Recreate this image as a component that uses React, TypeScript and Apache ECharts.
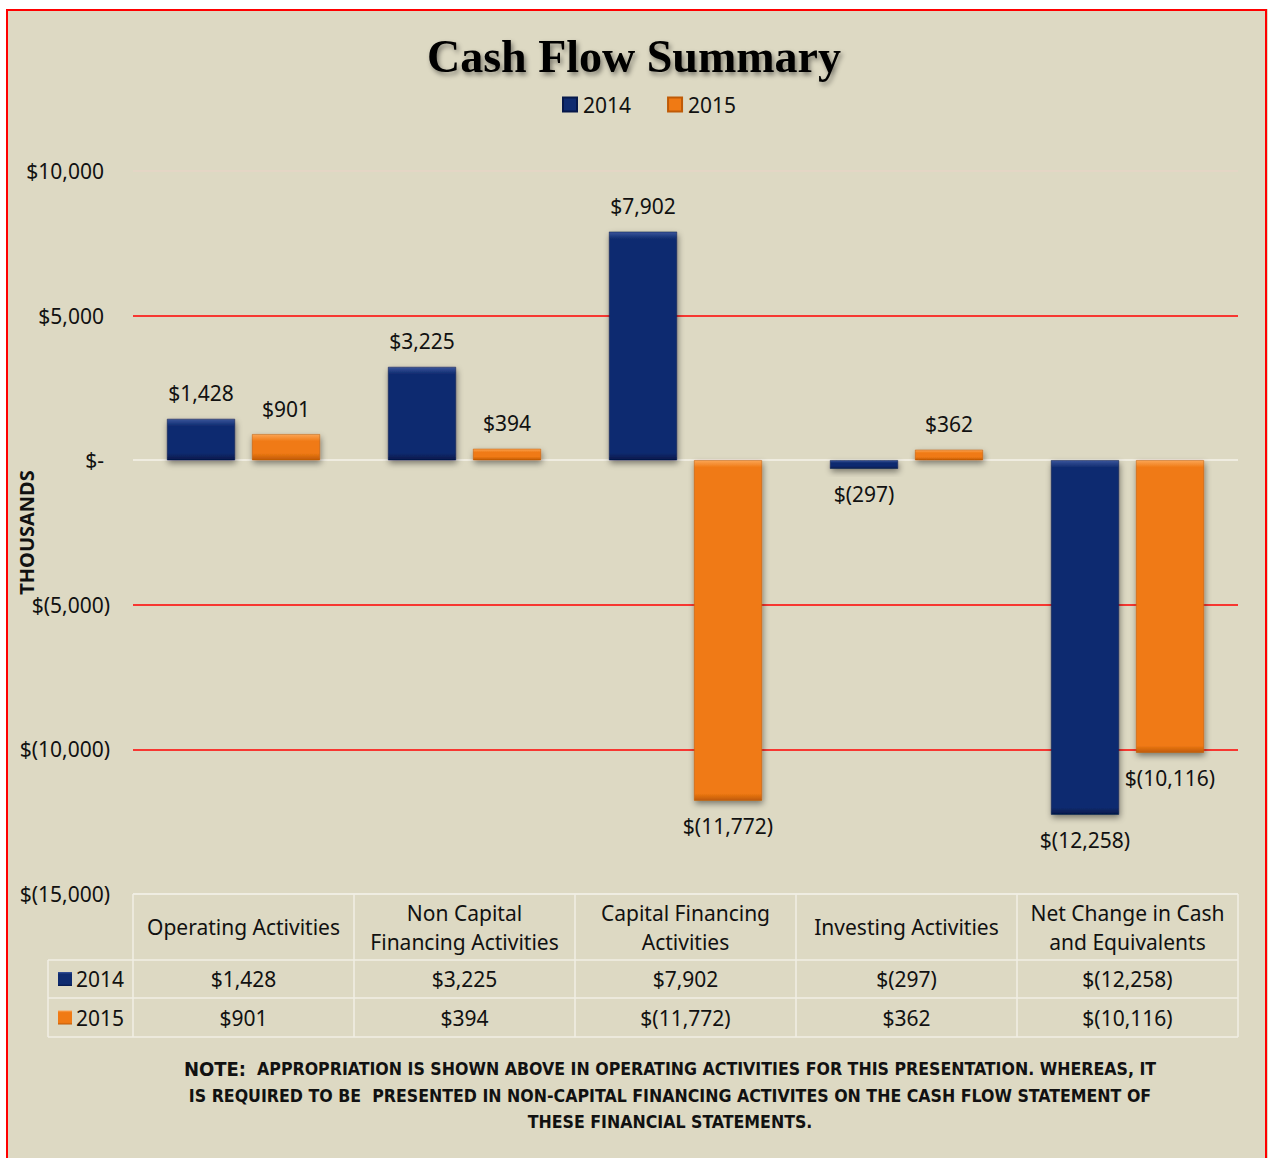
import React, { useEffect, useRef } from "react";
import * as echarts from "echarts";

const categories = [
  "Operating Activities",
  "Non Capital Financing Activities",
  "Capital Financing Activities",
  "Investing Activities",
  "Net Change in Cash and Equivalents",
];
const headerLabels = [
  "Operating Activities",
  "Non Capital\nFinancing Activities",
  "Capital Financing\nActivities",
  "Investing Activities",
  "Net Change in Cash\nand Equivalents",
];
const seriesNames = ["2014", "2015"];
const values2014 = [1428, 3225, 7902, -297, -12258];
const values2015 = [901, 394, -11772, 362, -10116];
const yMin = -15000;
const yMax = 10000;
const yInterval = 5000;
const noteLines = [
  "APPROPRIATION IS SHOWN ABOVE IN OPERATING ACTIVITIES FOR THIS PRESENTATION. WHEREAS, IT",
  "IS REQUIRED TO BE  PRESENTED IN NON-CAPITAL FINANCING ACTIVITES ON THE CASH FLOW STATEMENT OF",
  "THESE FINANCIAL STATEMENTS.",
];

const W = 1268;
const H = 1158;
const G_LEFT = 133;
const G_RIGHT = 1238;
const G_TOP = 171;
const G_BOTTOM = 894;
const ROW1 = 960;
const ROW2 = 998;
const ROW_END = 1037;
const LEG_COL = 48;

const BG = "#DDD9C3";
const NAVY = { light: "#3A559B", base: "#0F2B6F", dark: "#06184A" };
const ORANGE = { light: "#FBA556", base: "#F07A14", dark: "#BF5A06" };
const SANS = "'Noto Sans', 'Open Sans', sans-serif";
const FS = 21;

function fmt(v: number): string {
  if (v === 0) return "$-";
  const s = Math.abs(v).toLocaleString("en-US");
  return v < 0 ? `$(${s})` : `$${s}`;
}

function grad(c: { light: string; base: string; dark: string }, frac = 0.07) {
  return new echarts.graphic.LinearGradient(0, 0, 0, 1, [
    { offset: 0, color: c.light },
    { offset: frac, color: c.base },
    { offset: 1 - frac, color: c.base },
    { offset: 1, color: c.dark },
  ]);
}

export default function App() {
  const ref = useRef<HTMLDivElement>(null);
  useEffect(() => {
    if (!ref.current) return;
    const chart = echarts.init(ref.current, undefined, { renderer: "svg" });
    const colW = (G_RIGHT - G_LEFT) / categories.length;
    const pxPerUnit = (G_BOTTOM - G_TOP) / (yMax - yMin);
    const palettes = [NAVY, ORANGE];
    const rowsData = [values2014, values2015];

    const graphics: any[] = [];
    graphics.push({ type: "rect", shape: { x: 0, y: 0, width: W, height: 9 }, style: { fill: "#ffffff" }, z: 100 });
    graphics.push({ type: "rect", shape: { x: 0, y: 0, width: 6, height: H }, style: { fill: "#ffffff" }, z: 100 });
    graphics.push({ type: "rect", shape: { x: 7, y: 10, width: 1259, height: 1170 }, style: { fill: "none", stroke: "#FF0000", lineWidth: 2 }, z: 101 });

    const lineColor = "#F1EEE4";
    const hLines = [
      [G_LEFT, G_BOTTOM],
      [LEG_COL, ROW1],
      [LEG_COL, ROW2],
      [LEG_COL, ROW_END],
    ];
    hLines.forEach(([x0, y]) => {
      graphics.push({ type: "line", shape: { x1: x0, y1: y, x2: G_RIGHT, y2: y }, style: { stroke: lineColor, lineWidth: 1.5 }, z: 10 });
    });
    graphics.push({ type: "line", shape: { x1: LEG_COL, y1: ROW1, x2: LEG_COL, y2: ROW_END }, style: { stroke: lineColor, lineWidth: 1.5 }, z: 10 });
    for (let i = 0; i <= categories.length; i++) {
      const x = G_LEFT + colW * i;
      graphics.push({ type: "line", shape: { x1: x, y1: G_BOTTOM, x2: x, y2: ROW_END }, style: { stroke: lineColor, lineWidth: 1.5 }, z: 10 });
    }
    headerLabels.forEach((t, i) => {
      graphics.push({
        type: "text",
        x: G_LEFT + colW * (i + 0.5),
        y: (G_BOTTOM + ROW1) / 2,
        style: { text: t, fill: "#111", fontSize: FS, fontFamily: SANS, lineHeight: 29, align: "center", verticalAlign: "middle", textAlign: "center", textVerticalAlign: "middle" },
        z: 11,
      });
    });
    const rowYs = [(ROW1 + ROW2) / 2, (ROW2 + ROW_END) / 2];
    rowsData.forEach((vals, r) => {
      const y = rowYs[r];
      graphics.push({ type: "rect", shape: { x: 58, y: y - 7, width: 14, height: 14 }, style: { fill: grad(palettes[r], 0.15) }, z: 11 });
      graphics.push({
        type: "text",
        x: 76,
        y,
        style: { text: seriesNames[r], fill: "#111", fontSize: FS, fontFamily: SANS, align: "left", verticalAlign: "middle", textAlign: "left", textVerticalAlign: "middle" },
        z: 11,
      });
      vals.forEach((v, i) => {
        graphics.push({
          type: "text",
          x: G_LEFT + colW * (i + 0.5),
          y,
          style: { text: fmt(v), fill: "#111", fontSize: FS, fontFamily: SANS, align: "center", verticalAlign: "middle", textAlign: "center", textVerticalAlign: "middle" },
          z: 11,
        });
      });
    });
    const NOTE_FONT = "'Liberation Sans Narrow', 'DejaVu Sans Condensed', 'Liberation Sans', sans-serif";
    const noteYs = [1069, 1096, 1122];
    noteLines.forEach((t, i) => {
      graphics.push({
        type: "text",
        x: 670,
        y: noteYs[i],
        style: {
          text: i === 0 ? `{n|NOTE:}  ${t}` : t,
          fill: "#111",
          fontSize: 17.6,
          fontWeight: "bold",
          fontFamily: NOTE_FONT,
          align: "center",
          verticalAlign: "middle",
          textAlign: "center",
          textVerticalAlign: "middle",
          rich: { n: { fontSize: 20, fontWeight: "bold", fontFamily: NOTE_FONT, fill: "#111" } },
        },
        z: 11,
      });
    });

    const mkSeries = (vals: number[], idx: number) => ({
      name: seriesNames[idx],
      type: "bar",
      barWidth: 68,
      barGap: "25%",
      itemStyle: {
        color: grad(palettes[idx]),
        borderColor: palettes[idx].dark,
        borderWidth: 0.5,
        shadowColor: "rgba(0,0,0,0.45)",
        shadowBlur: 6,
        shadowOffsetX: 1,
        shadowOffsetY: 3,
      },
      label: {
        show: true,
        formatter: (p: any) => fmt(p.value),
        fontSize: FS,
        fontFamily: SANS,
        color: "#111",
        distance: 15,
      },
      data: vals.map((v) => ({
        value: v,
        label: { position: v < 0 ? "bottom" : "top" },
        itemStyle: { color: grad(palettes[idx], Math.min(0.3, 7 / (Math.abs(v) * pxPerUnit))) },
      })),
    });

    chart.setOption({
      animation: false,
      backgroundColor: BG,
      title: {
        text: "Cash Flow Summary",
        left: "center",
        top: 28,
        textStyle: {
          fontFamily: "'Liberation Serif', 'DejaVu Serif', serif",
          fontWeight: "bold",
          fontSize: 46,
          color: "#000",
          textShadowColor: "rgba(0,0,0,0.45)",
          textShadowBlur: 5,
          textShadowOffsetX: 2,
          textShadowOffsetY: 3,
        },
      },
      legend: {
        data: seriesNames,
        top: 89,
        left: 557,
        itemWidth: 14,
        itemHeight: 14,
        itemGap: 36,
        icon: "rect",
        textStyle: { fontSize: FS, fontFamily: SANS, color: "#111", padding: [0, 0, 0, 1] },
      },
      grid: { left: G_LEFT, right: W - G_RIGHT, top: G_TOP, bottom: H - G_BOTTOM, containLabel: false, outerBoundsMode: "none" },
      xAxis: {
        type: "category",
        data: categories,
        axisLine: { show: false },
        axisTick: { show: false },
        axisLabel: { show: false },
        splitLine: { show: false },
      },
      yAxis: {
        type: "value",
        min: yMin,
        max: yMax,
        interval: yInterval,
        name: "THOUSANDS",
        nameLocation: "middle",
        nameRotate: 90,
        nameGap: 97,
        nameMoveOverlap: false,
        nameTextStyle: { fontSize: 20, fontWeight: "bold", fontFamily: SANS, color: "#111" },
        axisLine: { show: false },
        axisTick: { show: false },
        axisLabel: {
          margin: 23,
          formatter: (v: number) => (v < 0 ? `{a|${fmt(v)}}` : `{b|${fmt(v)}}`),
          rich: {
            a: { fontSize: FS, fontFamily: SANS, color: "#111" },
            b: { fontSize: FS, fontFamily: SANS, color: "#111", padding: [0, 6, 0, 0] },
          },
        },
        splitLine: {
          show: true,
          showMinLine: true,
          showMaxLine: true,
          lineStyle: {
            color: ["#F1EEE4", "#FF0000", "#FF0000", "#F4F2EA", "#FF0000", "#E6D5C6"],
            width: 1.5,
          },
        },
      },
      graphic: graphics,
      series: [mkSeries(values2014, 0), mkSeries(values2015, 1)],
    });
    return () => chart.dispose();
  }, []);
  return <div ref={ref} style={{ position: "absolute", left: 0, top: 0, width: W, height: H, background: "#fff" }} />;
}
